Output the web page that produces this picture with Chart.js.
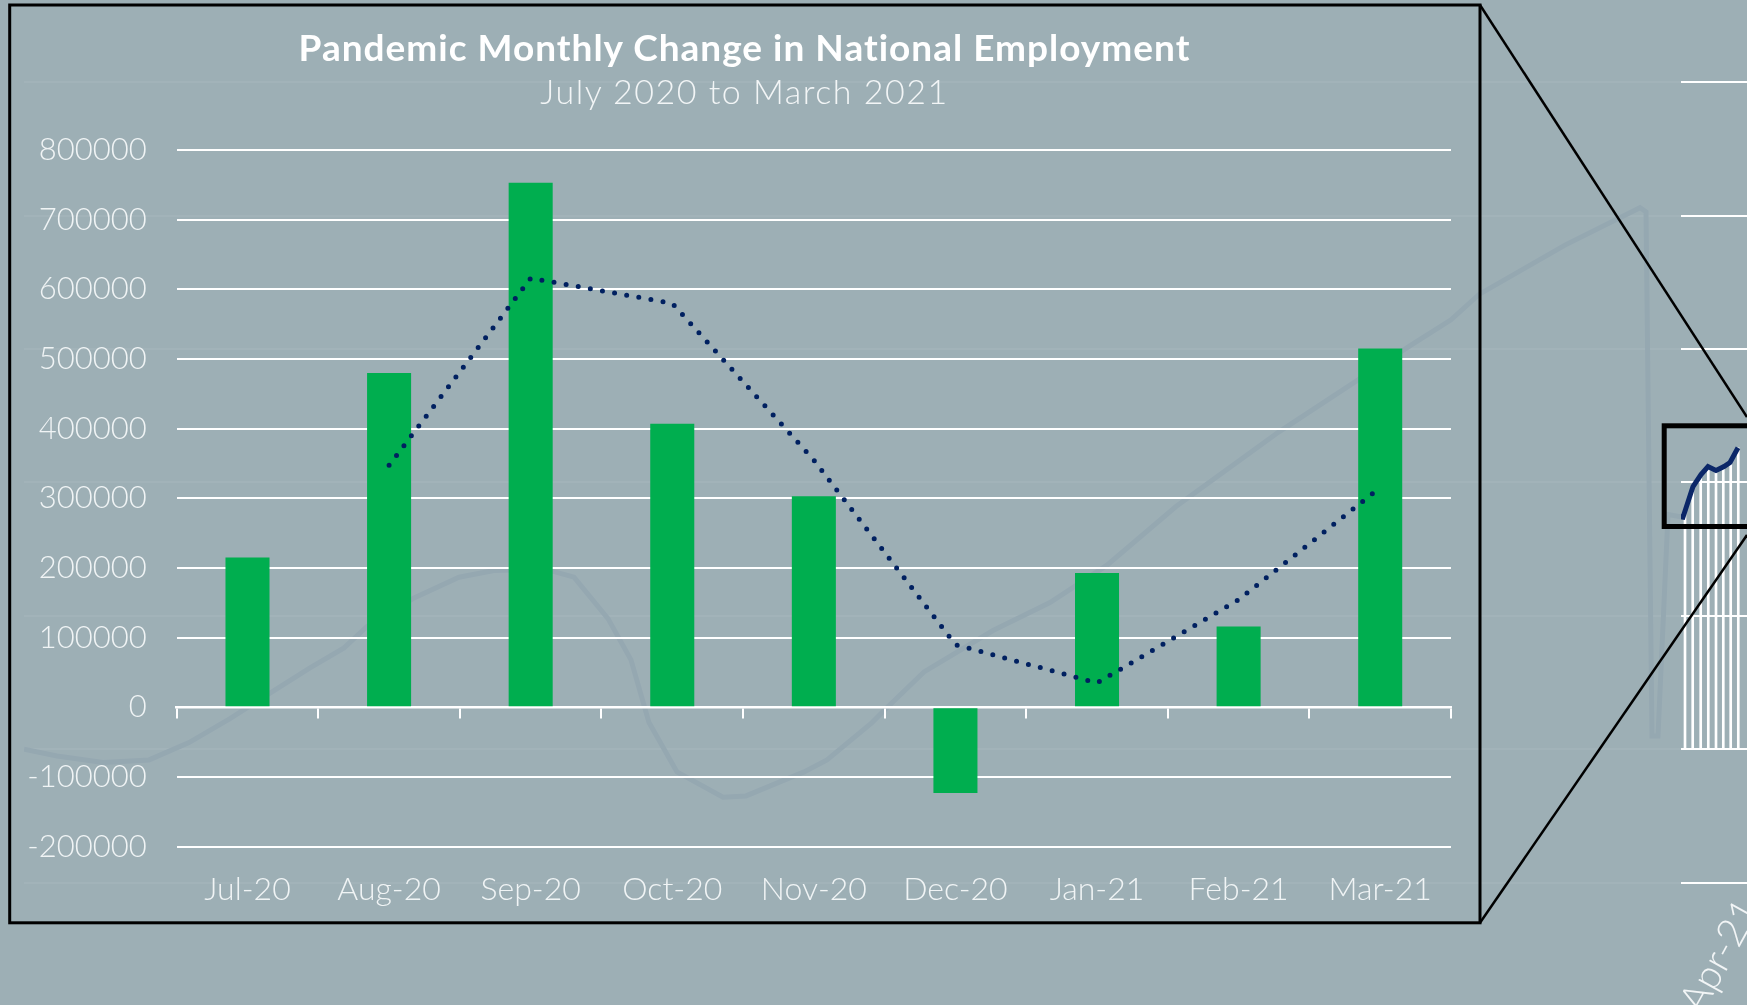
<!DOCTYPE html>
<html>
<head>
<meta charset="utf-8">
<script src="https://cdn.jsdelivr.net/npm/chart.js@4.4.1/dist/chart.umd.min.js"></script>
<style>
  html, body { margin:0; padding:0; }
  body { width:1747px; height:1005px; overflow:hidden; position:relative; background:#9dafb5; font-family: Lato, "Open Sans", sans-serif; }
  .layer { position:absolute; left:0; top:0; }
  #veil { position:absolute; left:0; top:0; width:1681px; height:1005px; background:rgba(157,175,181,0.95); }
  .title { position:absolute; left:0; width:1489px; text-align:center; color:#ffffff; white-space:nowrap; }
  #t1 { top:28px; font-size:37px; line-height:37px; font-weight:700; letter-spacing:1px; }
  #t2 { top:74px; font-size:34px; line-height:34px; font-weight:300; letter-spacing:1.5px; color:#f2f5f6; }
  #apr { position:absolute; left:1706px; top:978px; font-size:40px; line-height:40px; font-weight:300; color:#f2f5f6; transform:rotate(-61deg); transform-origin:0 100%; white-space:nowrap; }
</style>
</head>
<body>
<canvas id="ghost" class="layer" width="1747" height="1005"></canvas>
<div id="veil"></div>
<div id="apr">Apr-21</div>
<canvas id="main" class="layer" width="1747" height="1005"></canvas>
<div class="title" id="t1">Pandemic Monthly Change in National Employment</div>
<div class="title" id="t2">July 2020 to March 2021</div>
<svg class="layer" width="1747" height="1005" style="pointer-events:none">
  <rect x="9.7" y="5" width="1470.3" height="917.8" fill="none" stroke="#000" stroke-width="3"/>
  <line x1="1480" y1="5" x2="1747" y2="417" stroke="#000" stroke-width="2.5"/>
  <line x1="1480" y1="922.8" x2="1747" y2="535" stroke="#000" stroke-width="2.5"/>
  <rect x="1664.2" y="425.8" width="120" height="100.7" fill="none" stroke="#000" stroke-width="5"/>
</svg>
<script>
// ---- main chart data ----
const categories = ['Jul-20','Aug-20','Sep-20','Oct-20','Nov-20','Dec-20','Jan-21','Feb-21','Mar-21'];
const employmentChange = [215000, 480000, 753000, 407000, 303000, -123000, 193000, 116000, 515000];
const movingAverage2 = [null, 347500, 616000, 580000, 355000, 90000, 35000, 154500, 315500];
const yMin = -200000;
const yMax = 800000;
const yStep = 100000;

// ---- faded background chart (long-run employment, shown through the overlay) ----
const ghostX = [0, 33, 79, 125, 165, 206, 246, 286, 320, 343, 389, 435, 470, 521, 550, 584, 607, 625, 653, 699, 722, 780, 803, 848, 860, 900, 969, 1026, 1083, 1152, 1255, 1312, 1387, 1427, 1455, 1541, 1616, 1622, 1628, 1634, 1644, 1659, 1669, 1677, 1684, 1692, 1700, 1706, 1714];
const ghostY = [0, -0.05, -0.1, -0.08, 0.05, 0.23, 0.42, 0.61, 0.76, 0.92, 1.13, 1.29, 1.34, 1.35, 1.29, 0.98, 0.67, 0.2, -0.17, -0.36, -0.35, -0.17, -0.08, 0.2, 0.29, 0.58, 0.89, 1.1, 1.38, 1.82, 2.38, 2.66, 3.03, 3.22, 3.41, 3.78, 4.06, 4.03, 0.1, 0.1, 1.76, 1.74, 1.97, 2.06, 2.12, 2.09, 2.12, 2.15, 2.26];
const ghostDropX = [1661, 1668.7, 1676.7, 1684.3, 1692, 1699.3, 1706.7, 1714.3];
const ghostDropY = [1.78, 1.96, 2.05, 2.12, 2.08, 2.11, 2.15, 2.26];
const ghostGrid = [-1, 0, 1, 2, 3, 4, 5];

const FONT = 'Lato, "Open Sans", sans-serif';
const LABEL_COLOR = '#f0f4f5';

new Chart(document.getElementById('ghost'), {
  data: {
    datasets: [
      { type: 'line', data: ghostX.map((x, i) => ({x: x, y: ghostY[i]})), borderColor: '#0b2768', borderWidth: 5, pointRadius: 0, tension: 0, fill: false, order: 0 },
      { type: 'bar', data: ghostDropX.map((x, i) => ({x: x, y: ghostDropY[i]})), backgroundColor: '#ffffff', barThickness: 2, order: 1 }
    ]
  },
  options: {
    responsive: false, animation: false, events: [],
    layout: { padding: 0 },
    plugins: { legend: { display: false }, tooltip: { enabled: false } },
    scales: {
      x: { type: 'linear', min: 0, max: 1723, display: false, offset: false },
      y: {
        type: 'linear', min: -1.9175, max: 5.6175,
        afterFit: s => { s.width = 24; },
        afterBuildTicks: s => { s.ticks = ghostGrid.map(v => ({value: v})); },
        ticks: { display: false },
        border: { display: false },
        grid: { color: '#ffffff', lineWidth: 2, drawTicks: false }
      }
    }
  }
});

new Chart(document.getElementById('main'), {
  data: {
    labels: categories,
    datasets: [
      { type: 'line', label: '2 per. Mov. Avg.', data: movingAverage2, borderColor: '#002060', borderWidth: 5,
        borderDash: [0, 12.3], borderCapStyle: 'round', pointRadius: 0, tension: 0, fill: false, spanGaps: true, order: 0 },
      { type: 'bar', label: 'Monthly change', data: employmentChange, backgroundColor: '#00ae4f',
        categoryPercentage: 1, barPercentage: 0.311, order: 1 }
    ]
  },
  options: {
    responsive: false, animation: false, events: [],
    layout: { padding: { top: 150, right: 296, bottom: 0, left: 0 } },
    plugins: { legend: { display: false }, tooltip: { enabled: false }, title: { display: false } },
    scales: {
      x: {
        type: 'category', position: 'bottom', offset: true,
        afterFit: s => { s.height = 1005 - 846.7; },
        grid: { display: false, drawTicks: false },
        border: { display: false },
        ticks: { color: LABEL_COLOR, padding: 24, maxRotation: 0, autoSkip: false, font: { family: FONT, size: 32, weight: 300 } }
      },
      x2: {
        type: 'category', position: { y: 0 }, offset: true,
        grid: { display: true, drawOnChartArea: false, drawTicks: true, tickLength: 10, offset: true, color: '#ffffff', lineWidth: 2 },
        border: { display: true, color: '#ffffff', width: 2.5 },
        ticks: { display: false }
      },
      y: {
        type: 'linear', min: yMin, max: yMax,
        afterFit: s => { s.width = 176.7; },
        ticks: { stepSize: yStep, color: LABEL_COLOR, padding: 30, callback: v => String(v), font: { family: FONT, size: 31, weight: 300 } },
        grid: { color: '#ffffff', lineWidth: 2, drawTicks: false },
        border: { display: false }
      }
    }
  }
});
</script>
</body>
</html>
